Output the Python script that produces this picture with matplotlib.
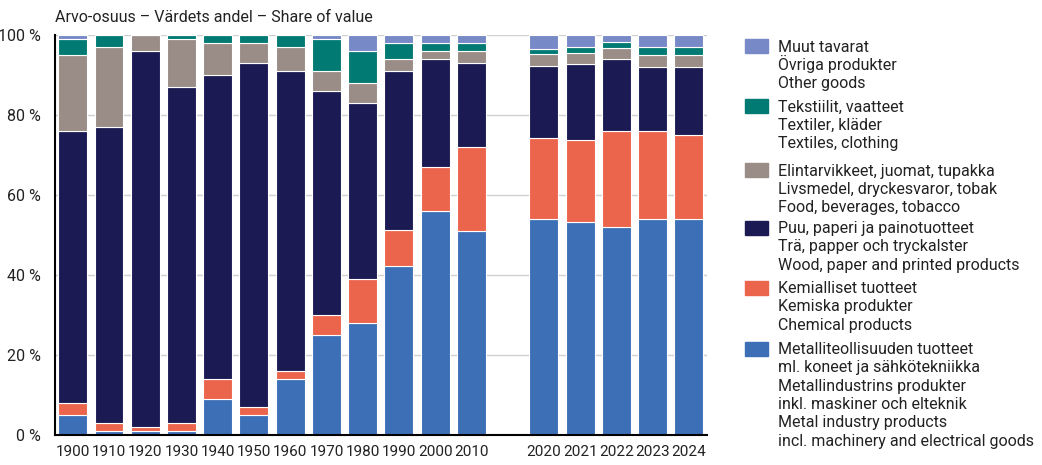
import numpy as np
import matplotlib
matplotlib.use("Agg")
from matplotlib import pyplot as plt
from matplotlib.patches import Rectangle

plt.rcParams['font.family'] = ['Roboto', 'DejaVu Sans']

years = ["1900", "1910", "1920", "1930", "1940", "1950", "1960", "1970", "1980",
         "1990", "2000", "2010", "2020", "2021", "2022", "2023", "2024"]
# gap of one slot between 2010 and 2020
positions = list(range(12)) + list(range(13, 18))

metal = [5, 1, 1, 1, 9, 5, 14, 25, 28, 42.3, 56, 51, 54.1, 53.2, 51.9, 54.1, 54.1]
chem = [3, 2, 1, 2, 5, 2, 2, 5, 11, 9, 11, 21, 20.1, 20.5, 24.2, 22.0, 21.0]
wood = [68, 74, 94, 84, 76, 86, 75, 56, 44, 39.7, 27, 21, 18.0, 19.0, 18.0, 15.9, 16.9]
food = [19, 20, 4, 12, 8, 5, 6, 5, 5, 3, 2, 3, 3.0, 2.7, 2.7, 3.0, 3.0]
textile = [4, 3, 0, 1, 2, 2, 3, 8, 8, 4, 2, 2, 1.2, 1.5, 1.5, 1.9, 1.9]
other = [1, 0, 0, 0, 0, 0, 0, 1, 4, 2, 2, 2, 3.6, 3.1, 1.7, 3.1, 3.1]

series = [metal, chem, wood, food, textile, other]
colors = ["#3d6fb6", "#eb644c", "#1b1a52", "#9a8c86", "#007a73", "#7789c6"]
labels = [
    ["Metalliteollisuuden tuotteet", "ml. koneet ja sähkötekniikka", "Metallindustrins produkter",
     "inkl. maskiner och elteknik", "Metal industry products", "incl. machinery and electrical goods"],
    ["Kemialliset tuotteet", "Kemiska produkter", "Chemical products"],
    ["Puu, paperi ja painotuotteet", "Trä, papper och tryckalster", "Wood, paper and printed products"],
    ["Elintarvikkeet, juomat, tupakka", "Livsmedel, dryckesvaror, tobak", "Food, beverages, tobacco"],
    ["Tekstiilit, vaatteet", "Textiler, kläder", "Textiles, clothing"],
    ["Muut tavarat", "Övriga produkter", "Other goods"],
]

W, H = 1042, 465
fig = plt.figure(figsize=(W / 100, H / 100), dpi=100)
ax = fig.add_axes([55 / W, 30 / H, 652 / W, 400 / H])

bottom = np.zeros(len(years))
for vals, c in zip(series, colors):
    vals = np.array(vals, dtype=float)
    ax.bar(positions, vals, width=0.8, bottom=bottom, color=c,
           edgecolor="white", linewidth=0.8, zorder=2)
    bottom += vals

ax.set_xlim(-0.49, 17.5)
ax.set_ylim(0, 100)
ax.set_yticks([0, 20, 40, 60, 80, 100])
ax.set_yticklabels(["0 %", "20 %", "40 %", "60 %", "80 %", "100 %"])
ax.set_xticks(positions)
ax.set_xticklabels(years)
ax.tick_params(length=0, labelsize=11, colors="#222222", pad=7)
ax.tick_params(axis="y", pad=10, labelsize=11.5)
ax.grid(axis="y", color="#d0d0d0", linewidth=1, zorder=0)
for s in ["top", "right"]:
    ax.spines[s].set_visible(False)
for s in ["left", "bottom"]:
    ax.spines[s].set_color("black")
    ax.spines[s].set_linewidth(1.5)
    ax.spines[s].set_zorder(3)

fig.text(55 / W, 1 - 22 / H, "Arvo-osuus – Värdets andel – Share of value",
         fontsize=11.5, color="#222222", va="baseline", ha="left")

# legend drawn by hand, topmost series first; one text per line keeps spacing even
tops = [39.3, 99.3, 163.3, 220.7, 280.7, 341.7]
for top, lines, c in zip(tops, labels[::-1], colors[::-1]):
    fig.patches.append(Rectangle((745 / W, 1 - (top + 14) / H), 23 / W, 14 / H,
                                 transform=fig.transFigure, color=c))
    for k, line in enumerate(lines):
        fig.text(778 / W, 1 - (top + 12.4 + 18.3 * k) / H, line, fontsize=11.5,
                 va="baseline", ha="left", color="#222222")

plt.savefig("out.png", dpi=100)
